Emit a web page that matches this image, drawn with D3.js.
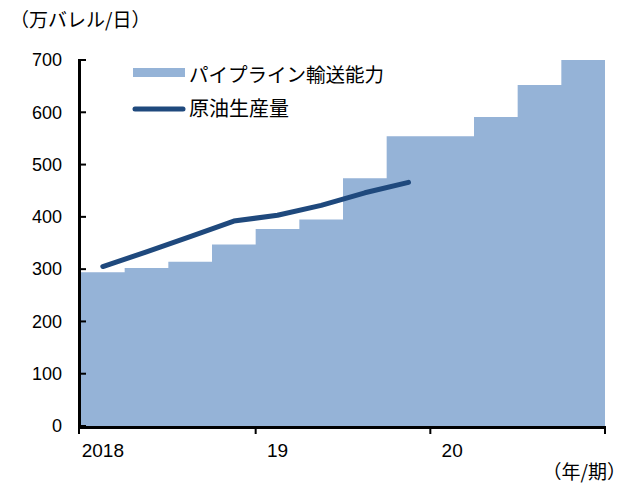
<!DOCTYPE html>
<html><head><meta charset="utf-8">
<script src="https://cdn.jsdelivr.net/npm/d3@7"></script>
<style>
body{margin:0;background:#fff;}
svg{display:block;}
.jp{font-family:"Noto Sans CJK JP",sans-serif;}
.num{font-family:"Liberation Sans",Arial,sans-serif;}
</style></head>
<body>
<script>
const quarters = ["2018Q1","2018Q2","2018Q3","2018Q4","2019Q1","2019Q2","2019Q3","2019Q4","2020Q1","2020Q2","2020Q3","2020Q4"];
const pipelineCapacity = [294, 302, 314, 347, 377, 395, 474, 554, 554, 591, 652, 700];
const crudeProduction = [305, 333, 362, 392, 403, 422, 446, 466];
const yearLabels = ["2018", "19", "20"];
const yTicks = [0, 100, 200, 300, 400, 500, 600, 700];
const seriesNames = ["パイプライン輸送能力", "原油生産量"];
const unitLabel = "（万バレル/日）";
const xUnitLabel = "（年/期）";

const W = 626, H = 486;
const m = {left: 81, right: 21, top: 60, bottom: 60};
const svg = d3.select("body").append("svg").attr("width", W).attr("height", H);

const x = d3.scaleBand().domain(quarters).range([m.left, W - m.right]).padding(0);
const xi = d3.scaleLinear().domain([0, quarters.length]).range([m.left, W - m.right]);
const y = d3.scaleLinear().domain([0, 700]).range([H - m.bottom, m.top]);

const areaColor = "#95B3D7", lineColor = "#1F497D";

// step area
const stepData = pipelineCapacity.map((v, i) => [i, v]).concat([[quarters.length, pipelineCapacity[pipelineCapacity.length - 1]]]);
const area = d3.area()
  .x(d => xi(d[0]))
  .y0(y(0))
  .y1(d => y(d[1]))
  .curve(d3.curveStepAfter);
svg.append("path").datum(stepData).attr("d", area).attr("fill", areaColor);

// production line
const line = d3.line()
  .x((d, i) => x(quarters[i]) + x.bandwidth() / 2)
  .y(d => y(d));
svg.append("path").datum(crudeProduction)
  .attr("d", line)
  .attr("fill", "none").attr("stroke", lineColor)
  .attr("stroke-width", 5).attr("stroke-linecap", "round").attr("stroke-linejoin", "round");

// axes drawn as filled rectangles
const x0 = xi(0), x1 = xi(quarters.length), yb = y(0), yt = y(700);
const axG = svg.append("g").attr("fill", "#000");
axG.append("rect").attr("x", x0 - 3).attr("y", yt - 1).attr("width", 3).attr("height", yb - yt + 4);
axG.append("rect").attr("x", x0 - 3).attr("y", yb).attr("width", x1 - x0 + 4).attr("height", 3);
axG.selectAll("rect.yt").data(yTicks).join("rect").attr("class", "yt")
  .attr("x", x0).attr("y", d => y(d) - 1).attr("width", 5).attr("height", 2);
axG.selectAll("rect.xt").data([0, 4, 8, 12]).join("rect").attr("class", "xt")
  .attr("x", d => xi(d) - (d === 0 ? 3 : 1)).attr("y", yb + 3).attr("width", 2).attr("height", 5);

svg.append("g").selectAll("text").data(yTicks).join("text").attr("class", "num")
  .attr("x", x0 - 19).attr("y", d => y(d)).attr("dy", "0.35em")
  .attr("text-anchor", "end").attr("font-size", 18).attr("fill", "#000")
  .text(d => d);

// year labels
svg.append("g").selectAll("text").data(yearLabels).join("text")
  .attr("class", "num")
  .attr("x", (d, i) => x(quarters[i * 4]) + x.bandwidth() / 2)
  .attr("y", yb + 31)
  .attr("text-anchor", "middle")
  .attr("font-size", 19)
  .text(d => d);

// unit labels
svg.append("text").attr("class", "jp").attr("x", 10).attr("y", 27)
  .attr("font-size", 19).text(unitLabel);
svg.append("text").attr("class", "jp").attr("x", 626).attr("y", 479)
  .attr("text-anchor", "end").attr("font-size", 19).text(xUnitLabel);

// legend
const lg = svg.append("g");
lg.append("rect").attr("x", 133).attr("y", 68).attr("width", 52).attr("height", 9).attr("fill", areaColor);
lg.append("text").attr("class", "jp").attr("x", 189).attr("y", 82).attr("font-size", 19.5).text(seriesNames[0]);
lg.append("line").attr("x1", 135).attr("x2", 183).attr("y1", 109).attr("y2", 109)
  .attr("stroke", lineColor).attr("stroke-width", 5).attr("stroke-linecap", "round");
lg.append("text").attr("class", "jp").attr("x", 189).attr("y", 116).attr("font-size", 20).text(seriesNames[1]);
</script>
</body></html>
